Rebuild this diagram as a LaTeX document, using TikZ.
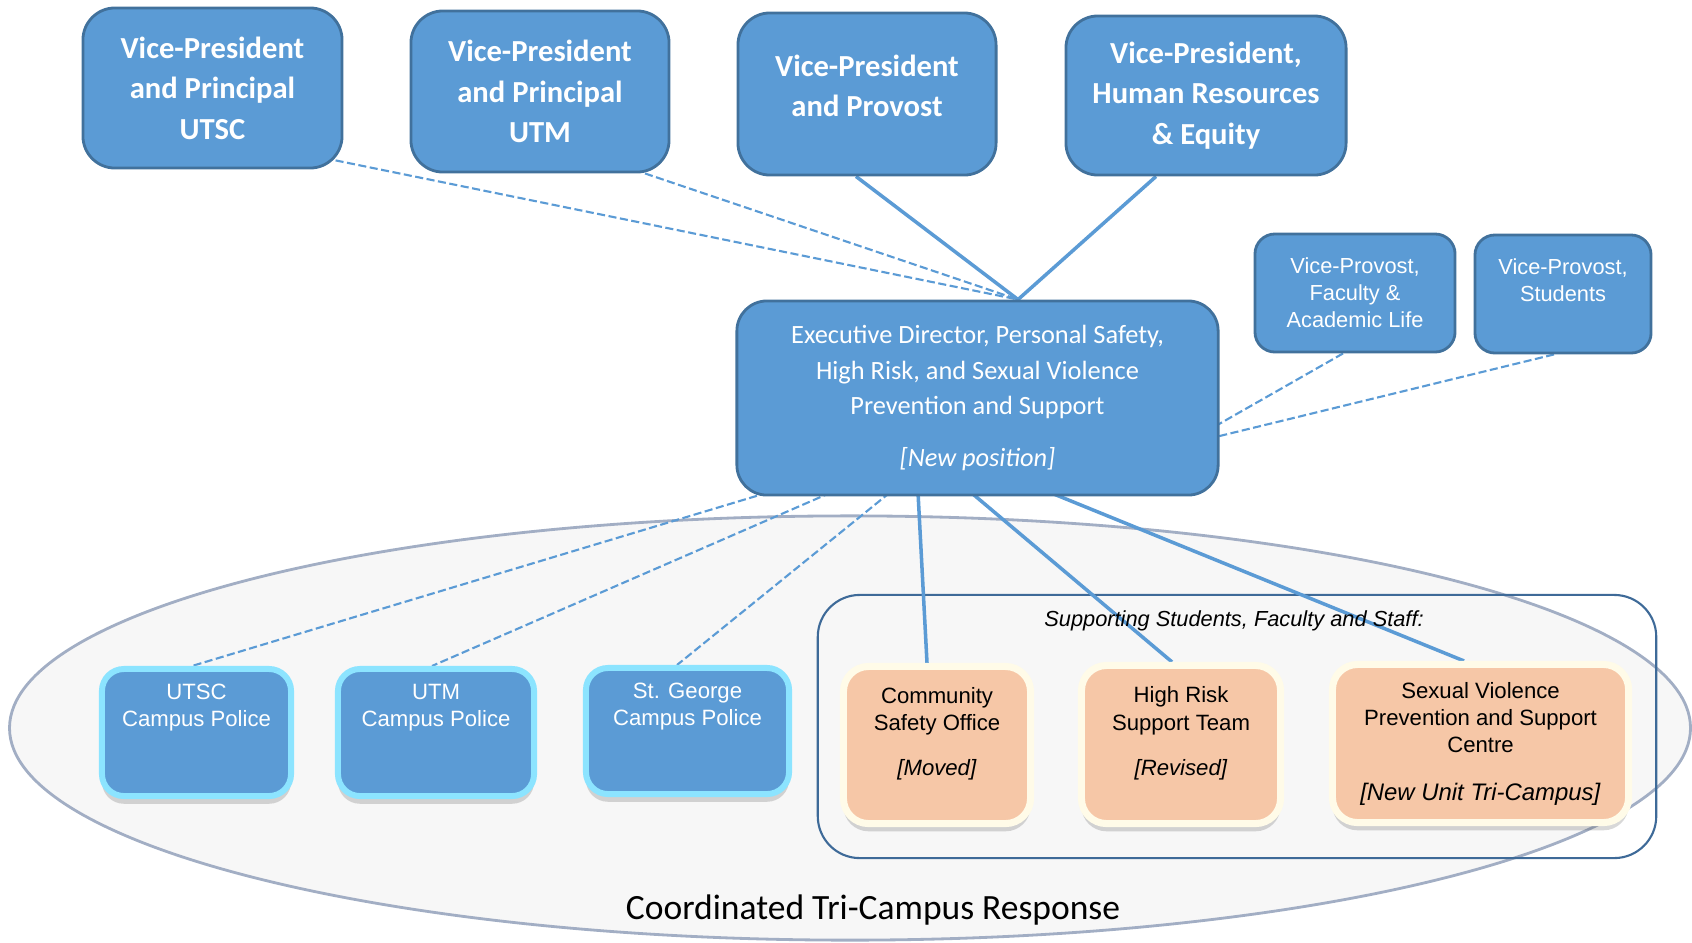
\documentclass[tikz,border=0pt]{standalone}
\usepackage{fontspec}
\setmainfont{Carlito}
\newfontfamily\arialfont{Liberation Sans}
\usetikzlibrary{calc,shadows}

\definecolor{boxblue}{RGB}{91,155,213}
\definecolor{edgeblue}{RGB}{65,113,156}
\definecolor{glowcyan}{RGB}{140,228,255}
\definecolor{peach}{RGB}{246,199,167}
\definecolor{cream}{RGB}{255,251,232}
\definecolor{fieldgray}{RGB}{247,247,247}
\definecolor{rimgray}{RGB}{162,174,196}
\definecolor{groupblue}{RGB}{62,106,152}

\pgfdeclarelayer{bottom}
\pgfdeclarelayer{background}
\pgfsetlayers{bottom,background,main}

\tikzset{
	topbox/.style={rectangle, rounded corners=0.32cm, fill=boxblue, draw=edgeblue, line width=0.8pt, text=white, align=center, font=\fontsize{8.7}{11.5}\selectfont\bfseries},
	execbox/.style={topbox, rounded corners=0.3cm, font=\fontsize{7.5}{10}\selectfont},
	provbox/.style={topbox, rounded corners=0.2cm, font=\arialfont\fontsize{6.2}{7.7}\selectfont},
	policebox/.style={rectangle, rounded corners=0.22cm, fill=boxblue, draw=glowcyan, line width=1.7pt, text=white, align=center, font=\arialfont\fontsize{6.3}{7.7}\selectfont, drop shadow={shadow xshift=0pt, shadow yshift=-2.2pt, opacity=0.22, fill=black!70}},
	peachbox/.style={policebox, fill=peach, draw=cream, line width=2pt, text=black, rounded corners=0.25cm},
	groupbox/.style={rectangle, rounded corners=0.42cm, draw=groupblue, line width=0.6pt},
	solidlink/.style={draw=boxblue, line width=1pt},
	dashlink/.style={draw=boxblue, line width=0.6pt, dash pattern=on 2.3pt off 1pt}
}

\begin{document}
\begin{tikzpicture}[x=0.01cm, y=-0.01cm]
		%%%%% START %%%%%
		\useasboundingbox (0,0) rectangle (1692,942);
		
		% top row
		\node[topbox, minimum width=2.59cm, minimum height=1.60cm] (vpUTSC) at (212.5,88) {Vice-President\\and Principal\\UTSC};
		\node[topbox, minimum width=2.58cm, minimum height=1.61cm] (vpUTM) at (540,91.5) {Vice-President\\and Principal\\UTM};
		\node[topbox, minimum width=2.58cm, minimum height=1.62cm] (vpProvost) at (867,94) {Vice-President\\and Provost\\[-6.9pt]\mbox{}};
		\node[topbox, minimum width=2.80cm, minimum height=1.59cm] (vpHR) at (1206,95.5) {Vice-President,\\Human Resources\\\& Equity};
		
		% middle
		\node[execbox, minimum width=4.81cm, minimum height=1.94cm] (exec) at (977.5,398) {Executive Director, Personal Safety,\\High Risk, and Sexual Violence\\Prevention and Support\\[4.8pt]\textit{[New position]}};
		\coordinate (hub) at ($(exec.north)+(40.5,0)$);
		
		\node[provbox, minimum width=2.00cm, minimum height=1.18cm] (vpFaculty) at (1355,293) {Vice-Provost,\\Faculty \&\\Academic Life};
		\node[provbox, minimum width=1.76cm, minimum height=1.18cm] (vpStudents) at (1563,294) {Vice-Provost,\\Students\\~};
		
		% tri-campus field
		\begin{pgfonlayer}{bottom}
		\draw[fill=fieldgray, draw=rimgray, line width=0.8pt] (850,728) ellipse [x radius=8.4cm, y radius=2.12cm];
		\node[groupbox, minimum width=8.38cm, minimum height=2.63cm] (group) at (1237,726.5) {};
		\end{pgfonlayer}
		\node[font=\arialfont\itshape\fontsize{6.2}{7.7}\selectfont] (grouptitle) at (1234,621) {Supporting Students, Faculty and Staff:};
		\node[font=\fontsize{10.1}{12}\selectfont] (response) at (873,910) {Coordinated Tri-Campus Response};
		
		\node[policebox, minimum width=1.89cm, minimum height=1.27cm] (polUTSC) at (196.5,732.5) {UTSC\\Campus Police\\~\\~};
		\node[policebox, minimum width=1.96cm, minimum height=1.27cm] (polUTM) at (436,732.5) {UTM\\Campus Police\\~\\~};
		\node[policebox, minimum width=2.03cm, minimum height=1.26cm] (polStG) at (687.5,731) {St. George\\Campus Police\\~\\~};
		
		\node[peachbox, minimum width=1.87cm, minimum height=1.57cm] (safety) at (937,745) {Community\\Safety Office\\[5.1pt]\textit{[Moved]}\\~};
		\node[peachbox, minimum width=1.99cm, minimum height=1.58cm] (riskteam) at (1181,744.5) {High Risk\\Support Team\\[5.1pt]\textit{[Revised]}\\~};
		\node[peachbox, minimum width=2.96cm, minimum height=1.58cm] (svcentre) at (1480.5,743.5) {Sexual Violence\\Prevention and Support\\Centre\\[5.9pt]{\fontsize{6.8}{7.7}\selectfont\textit{[New Unit Tri-Campus]}}};
		
		% links
		\begin{pgfonlayer}{background}
		\draw[dashlink] ($(vpUTSC.south east)+(-42,-16)$) -- (hub);
		\draw[dashlink] ($(vpUTM.south)+(105,0)$) -- (hub);
		\draw[solidlink] ($(vpProvost.south)+(-11,0)$) -- (hub);
		\draw[solidlink] ($(vpHR.south)+(-50,0)$) -- (hub);
		
		\draw[dashlink] ($(vpFaculty.south)+(-12,0)$) -- ($(exec.east)+(-4,28)$);
		\draw[dashlink] ($(vpStudents.south)+(-9,0)$) -- ($(exec.east)+(-4,39)$);
		
		\draw[dashlink] ($(exec.south)+(-209.5,-4)$) -- ($(polUTSC.north)+(-4.5,0)$);
		\draw[dashlink] ($(exec.south)+(-146.5,-4)$) -- ($(polUTM.north)+(-4,0)$);
		\draw[dashlink] ($(exec.south)+(-87.5,-4)$) -- ($(polStG.north)+(-10.5,0)$);
		\draw[solidlink] ($(exec.south)+(-59.5,-4)$) -- ($(safety.north)+(-10,0)$);
		\draw[solidlink] ($(exec.south)+(-6.5,-4)$) -- ($(riskteam.north)+(-9,0)$);
		\draw[solidlink] ($(exec.south)+(72.5,-4)$) -- ($(svcentre.north)+(-16.5,0)$);
		\end{pgfonlayer}
		
		%%%%% END %%%%%
\end{tikzpicture}
\end{document}
